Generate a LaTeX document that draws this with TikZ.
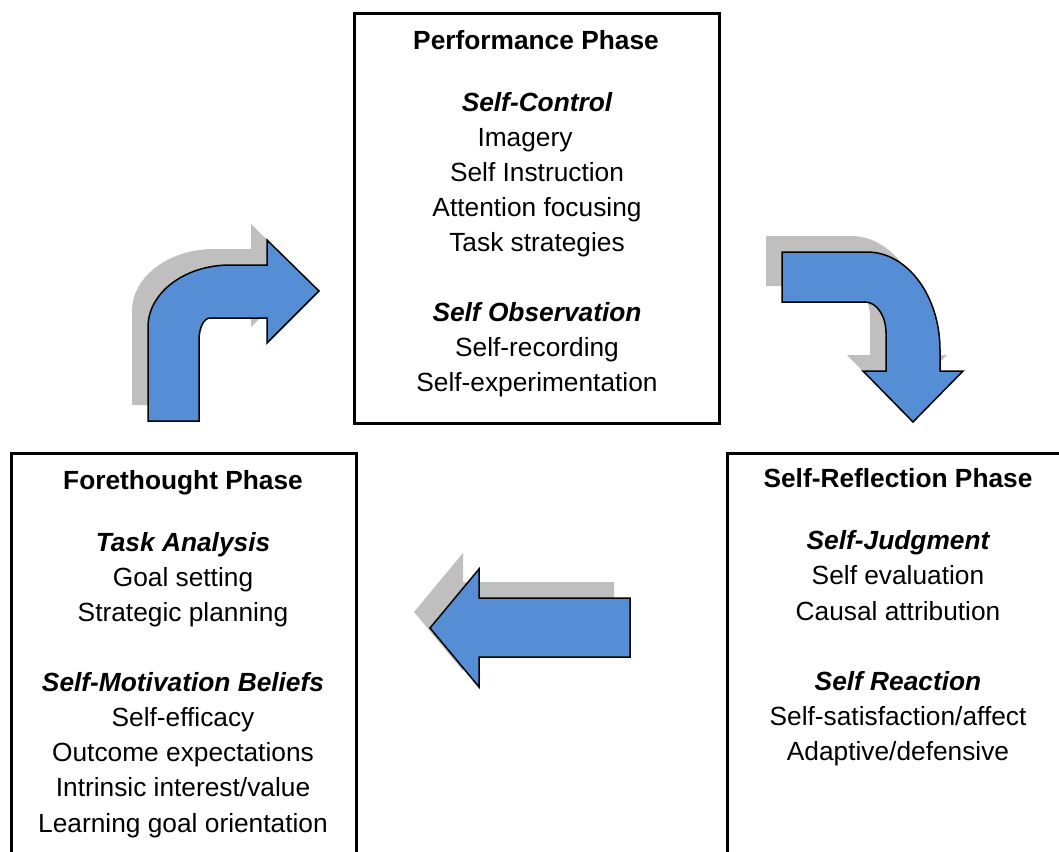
\documentclass[tikz,border=0pt]{standalone}
\usepackage{fontspec}
\setmainfont{Liberation Sans}
\definecolor{arrowblue}{RGB}{85,142,213}
\definecolor{shadowgray}{RGB}{191,191,191}
\tikzset{
  phasebox/.style={draw=black, line width=3pt, inner sep=0pt, anchor=north west},
  txt/.style={anchor=base, inner sep=0pt, font=\fontsize{26.3}{35}\selectfont},
  ttl/.style={anchor=base, inner sep=0pt, font=\fontsize{26.3}{35}\selectfont\bfseries},
  hd/.style={anchor=base, inner sep=0pt, font=\fontsize{26.3}{35}\selectfont\bfseries\itshape},
  blockarrow/.style={fill=arrowblue, draw=black, line width=1.5pt, line join=miter},
  shadowed/.style={preaction={fill=shadowgray, draw=none, transform canvas={shift={(-16pt,16pt)}}}}
}
\begin{document}
\begin{tikzpicture}[x=1pt, y=-1pt]
\useasboundingbox (0,0) rectangle (1059,851);
\clip (0,0) rectangle (1059,851);

% boxes
\node[phasebox, minimum width=365pt, minimum height=410pt] (perf) at (353,12) {};
\node[phasebox, minimum width=345pt, minimum height=450pt] (fore) at (10,452) {};
\node[phasebox, minimum width=344pt, minimum height=450pt] (refl) at (726,452) {};

% Performance phase text
\node[ttl] (p0) at (536,49) {Performance Phase};
\node[hd]  (p1) at (537,111) {Self-Control};
\node[txt] (p2) at (525,146) {Imagery};
\node[txt] (p3) at (537,181) {Self Instruction};
\node[txt] (p4) at (537,216) {Attention focusing};
\node[txt] (p5) at (537,251) {Task strategies};
\node[hd]  (p6) at (537,321) {Self Observation};
\node[txt] (p7) at (537,356) {Self-recording};
\node[txt] (p8) at (537,391) {Self-experimentation};

% Forethought phase text
\node[ttl] (f0) at (183,489) {Forethought Phase};
\node[hd]  (f1) at (183,551) {Task Analysis};
\node[txt] (f2) at (183,586) {Goal setting};
\node[txt] (f3) at (183,621) {Strategic planning};
\node[hd]  (f4) at (183,691) {Self-Motivation Beliefs};
\node[txt] (f5) at (183,726) {Self-efficacy};
\node[txt] (f6) at (183,761) {Outcome expectations};
\node[txt] (f7) at (183,796) {Intrinsic interest/value};
\node[txt] (f8) at (183,832) {Learning goal orientation};

% Self-reflection phase text
\node[ttl] (r0) at (898,487) {Self-Reflection Phase};
\node[hd]  (r1) at (898,549) {Self-Judgment};
\node[txt] (r2) at (898,584) {Self evaluation};
\node[txt] (r3) at (898,620) {Causal attribution};
\node[hd]  (r4) at (898,690) {Self Reaction};
\node[txt] (r5) at (898,725) {Self-satisfaction/affect};
\node[txt] (r6) at (898,760) {Adaptive/defensive};

% arrow: forethought -> performance (bent up-right)
\draw[blockarrow, shadowed]
  (148,421) -- (148,327)
  .. controls (148,292.8) and (184.7,265) .. (230,265)
  -- (267,265) -- (267,240) -- (319,291) -- (267,343) -- (267,318)
  -- (210,318)
  .. controls (204,318) and (199,327.8) .. (199,340)
  -- (199,421) -- cycle;

% arrow: performance -> self-reflection (bent right-down)
\draw[blockarrow, shadowed]
  (782,252) -- (867,252)
  .. controls (907.3,252) and (940,295.9) .. (940,350)
  -- (940,371) -- (963,371) -- (913,422) -- (863,371) -- (886,371)
  -- (886,333)
  .. controls (886,315.9) and (876.6,302) .. (865,302)
  -- (782,302) -- cycle;

% arrow: self-reflection -> forethought (left)
\draw[blockarrow, shadowed]
  (630,598) -- (479,598) -- (479,569) -- (430,628) -- (479,687)
  -- (479,657) -- (630,657) -- cycle;
\end{tikzpicture}
\end{document}
